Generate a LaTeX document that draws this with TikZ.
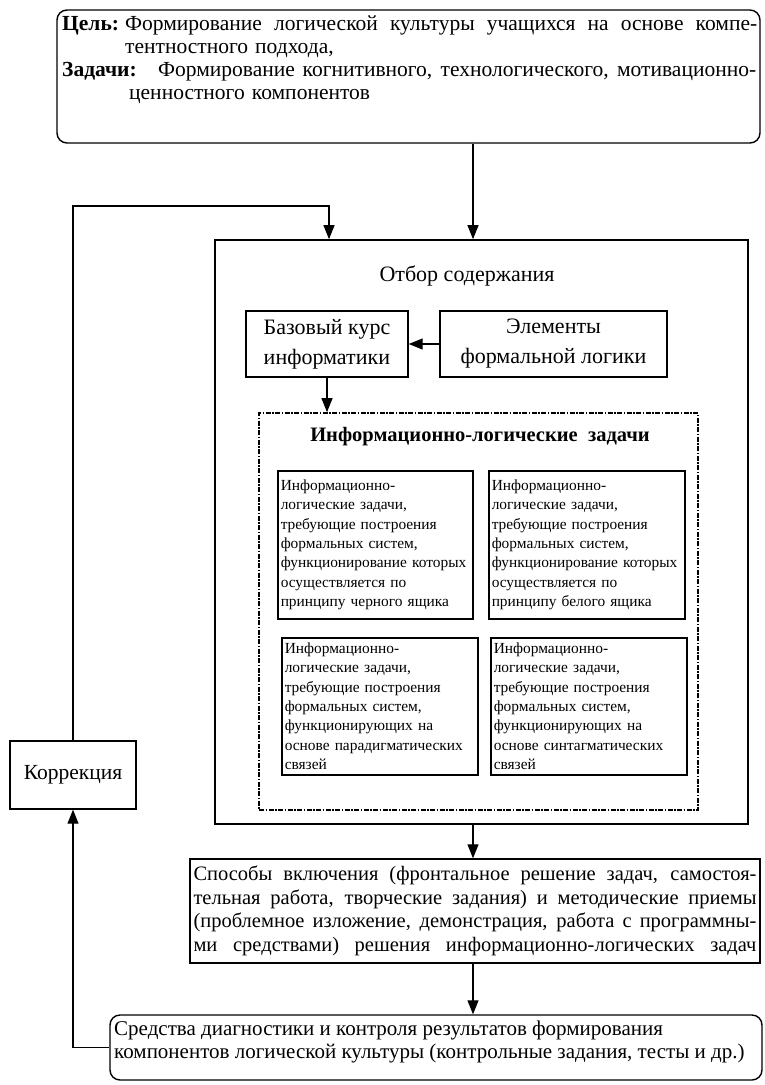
\documentclass[tikz,border=0pt]{standalone}
\usepackage{fontspec}
\setmainfont{Liberation Serif}
\usetikzlibrary{arrows.meta,calc}
\newcommand\jbox[2]{\leavevmode\hbox to #1{\spaceskip=0.25em plus 2em minus 0.05em\relax
  \xspaceskip=0.25em plus 2em minus 0.05em\relax #2}}
\newcommand\jl[2]{\jbox{#1}{#2}\\}
\begin{document}
\begin{tikzpicture}[x=1pt,y=-1pt,
  box/.style={draw, line width=1.4pt, inner sep=0pt},
  inbox/.style={draw, line width=1.5pt, inner sep=3pt, align=left, anchor=north west,
     font=\fontsize{15.4}{19.3}\selectfont},
  arr/.style={-{Triangle[length=14pt,width=11pt]}, line width=1.1pt},
  dashbox/.style={draw, line width=1.7pt, dash pattern=on 5pt off 1.5pt on 1.5pt off 1.5pt},
  main/.style={font=\fontsize{21.5}{23}\selectfont},
  txt/.style={main, anchor=north west, inner sep=0pt, align=left}
]
\useasboundingbox (0,0) rectangle (765,1085);

% top box
\node[box, rounded corners=10pt, minimum width=703pt, minimum height=133pt] (goal) at (408.5,76.5) {};
\node[txt] (goallabel) at (62,16) {\textbf{Цель:}};
\node[txt, text width=632pt] (goalbody) at (125,16)
{\jl{632pt}{Формирование логической культуры учащихся на основе компе-}тентностного подхода,};
\node[txt] (tasklabel) at (62,62) {\textbf{Задачи:}};
\node[txt, text width=598pt] (taskbody) at (158,62)
{\jl{598pt}{Формирование когнитивного, технологического, мотивационно-}\hspace*{-29pt}ценностного компонентов};

% big selection box
\node[box, line width=1.7pt, minimum width=533pt, minimum height=584pt] (sel) at (481.5,532) {};
\node[main, font=\fontsize{22}{24}\selectfont, inner sep=0pt] (seltitle) at (467,276) {Отбор содержания};

\node[box, font=\fontsize{22}{30}\selectfont, minimum width=162pt, minimum height=66pt, align=left] (base) at (327,344) {Базовый курс\\информатики};
\node[box, font=\fontsize{22}{30}\selectfont, minimum width=227pt, minimum height=66pt, align=center] (elem) at (553.5,344) {Элементы\\формальной логики};

\node[dashbox, minimum width=439pt, minimum height=397pt] (tasks) at (478.5,611.5) {};
\node[inner sep=0pt, font=\fontsize{20.5}{22.5}\selectfont\bfseries] (taskstitle) at (480,437) {Информационно-логические\ \ задачи};

\node[inbox, text width=189pt, minimum height=148pt] (tl) at (277,470)
{Информационно-\\логические задачи,\\требующие построения\\формальных систем,\\функционирование~которых\\осуществляется по\\принципу черного ящика};
\node[inbox, text width=190pt, minimum height=148pt] (tr) at (488,470)
{Информационно-\\логические задачи,\\требующие построения\\формальных систем,\\функционирование~которых\\осуществляется по\\принципу белого ящика};
\node[inbox, text width=190pt, minimum height=137pt] (bl) at (281,637)
{Информационно-\\логические задачи,\\требующие построения\\формальных систем,\\функционирующих на\\основе парадигматических\\связей};
\node[inbox, text width=190pt, minimum height=137pt] (br) at (490,637)
{Информационно-\\логические задачи,\\требующие построения\\формальных систем,\\функционирующих на\\основе синтагматических\\связей};

% correction
\node[box, main, minimum width=126pt, minimum height=68pt] (korr) at (73,775) {Коррекция};

% methods
\node[box, font=\fontsize{20.5}{23.5}\selectfont, minimum width=570pt, minimum height=104pt, text width=563pt, align=left] (meth) at (475,911)
{\jl{563pt}{Способы включения (фронтальное решение задач, самостоя-}%
\jl{563pt}{тельная работа, творческие задания) и методические приемы}%
\jl{563pt}{(проблемное изложение, демонстрация, работа с программны-}%
\jbox{563pt}{ми средствами) решения информационно-логических задач}};

% diagnostics
\node[box, rounded corners=10pt, minimum width=652pt, minimum height=65pt] (diag) at (436,1047.5) {};
\node[txt, font=\fontsize{21}{23}\selectfont] (diagtext) at (114,1021)
{Средства диагностики и контроля результатов формирования\\компонентов логической культуры (контрольные задания, тесты и др.)};

% connectors
\coordinate (ax) at (473,0);
\coordinate (fb) at (329,206);
\draw[arr] (goal.south -| ax) -- (sel.north -| ax);
\draw[arr] (korr.north) |- (fb) -- (sel.north -| fb);
\draw[arr] (elem.west) -- (base.east);
\draw[arr] (base.south) -- (base.south |- tasks.north);
\draw[arr] (sel.south -| ax) -- (meth.north -| ax);
\draw[arr] (meth.south -| ax) -- (diag.north -| ax);
\draw[arr] (diag.west) -| (korr.south);
\end{tikzpicture}
\end{document}
